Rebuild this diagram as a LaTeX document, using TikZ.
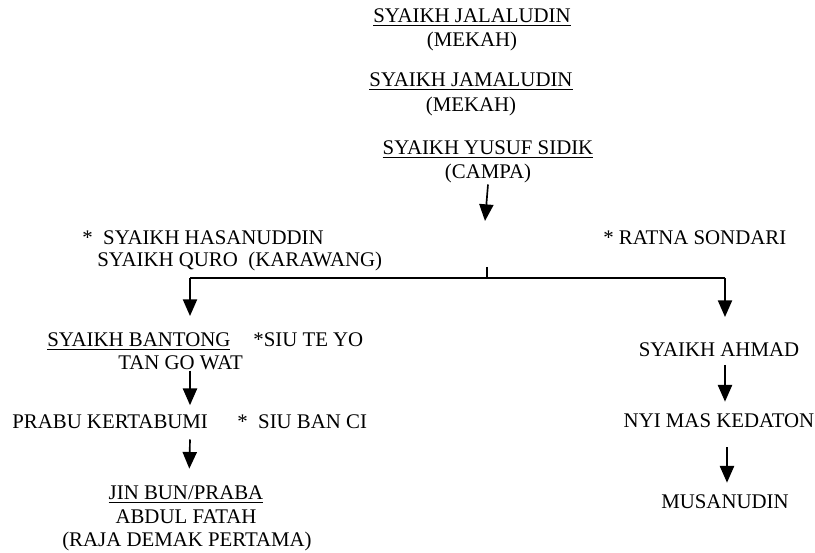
\documentclass[tikz,border=0pt]{standalone}
\usepackage{fontspec}
\setmainfont{Liberation Serif}
\usetikzlibrary{arrows.meta}

\begin{document}
\begin{tikzpicture}[x=0.6pt,y=-0.6pt,
    lbl/.style={inner sep=0pt,font=\fontsize{12.5}{15}\selectfont,text height=8.6pt,text depth=2.6pt},
    arr/.style={line width=1pt,-{Triangle[length=10pt,width=8.5pt]}}]
    \useasboundingbox (0,0) rectangle (815,553);
    % ancestors
    \node[lbl,anchor=base] (jalal) at (472,23) {\underline{SYAIKH JALALUDIN}};
    \node[lbl,anchor=base] (mekahA) at (472,47) {(MEKAH)};
    \node[lbl,anchor=base] (jamal) at (471,87) {\underline{SYAIKH JAMALUDIN}};
    \node[lbl,anchor=base] (mekahB) at (471,112) {(MEKAH)};
    \node[lbl,anchor=base] (yusuf) at (488,155) {\underline{SYAIKH YUSUF SIDIK}};
    \node[lbl,anchor=base] (campa) at (488,179) {(CAMPA)};
    \node[lbl,anchor=base west] (hasan) at (82,245) {*\ \ SYAIKH HASANUDDIN};
    \node[lbl,anchor=base west] (quro) at (97,267) {SYAIKH QURO\ \ (KARAWANG)};
    \node[lbl,anchor=base west] (ratna) at (603,245) {* RATNA SONDARI};
    % left branch
    \node[lbl,anchor=base west] (bantong) at (47,347) {\underline{SYAIKH BANTONG}};
    \node[lbl,anchor=base west] (teyo) at (253,347) {*SIU TE YO};
    \node[lbl,anchor=base west] (tango) at (118,370) {TAN GO WAT};
    \node[lbl,anchor=base west] (prabu) at (12,429) {PRABU KERTABUMI};
    \node[lbl,anchor=base west] (banci) at (237,429) {*\ \ SIU BAN CI};
    \node[lbl,anchor=base] (jinbun) at (186,500) {\underline{JIN BUN/PRABA}};
    \node[lbl,anchor=base] (abdul) at (186,524) {ABDUL FATAH};
    \node[lbl,anchor=base] (raja) at (187,547) {(RAJA DEMAK PERTAMA)};
    % right branch
    \node[lbl,anchor=base] (ahmad) at (719,357) {SYAIKH AHMAD};
    \node[lbl,anchor=base] (kedaton) at (719,428) {NYI MAS KEDATON};
    \node[lbl,anchor=base] (musa) at (725,509) {MUSANUDIN};
    % connectors
    \coordinate (split) at (485,221);
    \coordinate (forktop) at (487,267);
    \coordinate (fork) at (487,278);
    \coordinate (forkL) at (190,278);
    \coordinate (forkR) at (725,278);
    \coordinate (dropL) at (190,316);
    \coordinate (dropR) at (725,317);
    \draw[arr] ([yshift=-0.5pt]campa.south) -- (split);
    \draw[line width=1pt] (forktop) -- (fork);
    \draw[line width=1pt] (forkL) -- (forkR);
    \draw[arr] (forkL) -- (dropL);
    \draw[arr] (forkR) -- (dropR);
    \draw[arr] ([yshift=2.4pt]tango.south -| forkL) -- ([yshift=5.5pt]prabu.north -| forkL);
    \draw[arr] ([yshift=-3.5pt]prabu.south -| forkL) -- ([xshift=2pt,yshift=10pt]jinbun.north);
    \draw[arr] ([yshift=-2pt]ahmad.south -| dropR) -- ([yshift=7pt]kedaton.north -| dropR);
    \draw[arr] ([xshift=1.2pt,yshift=-8.8pt]kedaton.south -| dropR) -- ([xshift=1.2pt,yshift=7pt]musa.north -| dropR);
\end{tikzpicture}
\end{document}
